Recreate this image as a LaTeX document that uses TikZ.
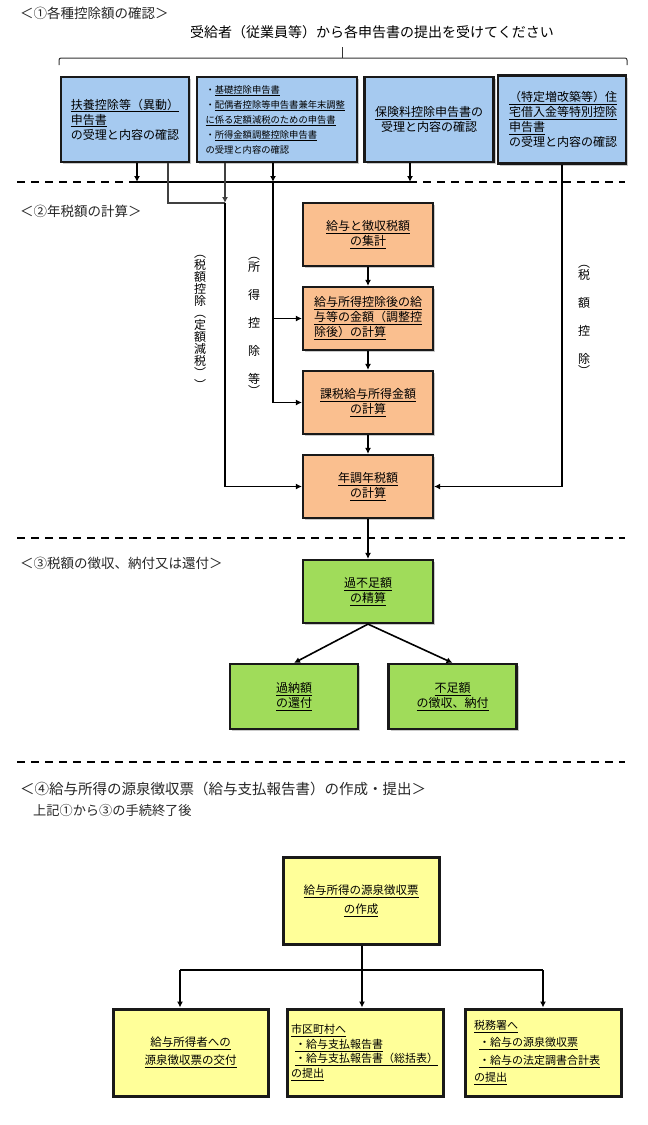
\documentclass[tikz,border=0pt]{standalone}
\usepackage{fontspec}
\setmainfont{Noto Sans CJK JP}
\usetikzlibrary{arrows.meta}
\usetikzlibrary{shadows}

\definecolor{boxblue}{RGB}{166,202,240}
\definecolor{boxorange}{RGB}{250,191,143}
\definecolor{boxgreen}{RGB}{160,220,90}
\definecolor{boxyellow}{RGB}{255,255,153}

\newcommand{\lnk}[1]{\underline{#1}}

\tikzset{
  card/.style={draw=black!90, line width=2.2bp, inner sep=0pt, align=center,
    minimum width=130bp, minimum height=63bp,
    drop shadow={shadow xshift=2bp, shadow yshift=-2bp, opacity=0.35, fill=black!60},
    font=\fontsize{12bp}{15bp}\selectfont},
  bluecard/.style={card, fill=boxblue, minimum width=128bp, minimum height=85bp},
  orangecard/.style={card, fill=boxorange},
  greencard/.style={card, fill=boxgreen},
  yellowcard/.style={card, fill=boxyellow, line width=3bp, minimum width=156bp, minimum height=87bp,
    font=\fontsize{11.5bp}{19bp}\selectfont},
  heading/.style={anchor=west, inner sep=0pt, text=black!85, font=\fontsize{13.5bp}{16bp}\selectfont},
  sepline/.style={line width=2bp, dash pattern=on 8bp off 6bp},
  wire/.style={line width=1.6bp},
  arr/.style={wire, -{Latex[length=6bp,width=6bp]}},
  thinwire/.style={line width=1.3bp, draw=black!75},
  thinarr/.style={thinwire, -{Latex[length=6bp,width=6bp]}},
  tategaki/.style={inner sep=0pt, align=center, font=\fontsize{12bp}{28bp}\selectfont},
}

\begin{document}
\begin{tikzpicture}[x=1bp, y=-1bp]
  \useasboundingbox (0,0) rectangle (648,1125);

  % (1)
  \node[heading] (head1) at (20,13) {＜①各種控除額の確認＞};
  \node[inner sep=0pt, font=\fontsize{14bp}{16bp}\selectfont] (juken) at (372,32) {受給者（従業員等）から各申告書の提出を受けてください};
  \draw[line width=1bp, draw=black!80, rounded corners=2bp] (59,65) -- (59,58) -- (627,58) -- (627,65);
  \draw[line width=1bp, draw=black!80] (342,58) -- (342,47);

  \node[bluecard, text width=108bp, align=left] (fuyo) at (125,119.5) {\lnk{扶養控除等（異動）}\\\lnk{申告書}\\の受理と内容の確認};
  \node[bluecard, minimum width=160bp, text width=143bp, align=left, font=\fontsize{9.3bp}{15bp}\selectfont] (kiso) at (277,119.5) {・\lnk{基礎控除申告書}\\・\lnk{配偶者控除等申告書兼年末調整}\\\lnk{に係る定額減税のための申告書}\\・\lnk{所得金額調整控除申告書}\\の受理と内容の確認};
  \node[bluecard, minimum width=129bp] (hoken) at (429,119.5) {\lnk{保険料控除申告書}の\\受理と内容の確認};
  \node[bluecard, minimum height=88bp, text width=106bp, align=left] (jutaku) at (562,119.5) {\lnk{（特定増改築等）住}\\\lnk{宅借入金等特別控除}\\\lnk{申告書}\\の受理と内容の確認};

  \draw[sepline] (17,182) -- (625,182);

  % (2)
  \node[heading] (head2) at (20,211) {＜②年税額の計算＞};
  \node[orangecard] (kyuyo) at (368,234.5) {\lnk{給与と徴収税額}\\\lnk{の集計}};
  \node[orangecard, text width=108bp, align=left] (kojogo) at (368,318.5) {\lnk{給与所得控除後の給}\\\lnk{与等の金額（調整控}\\\lnk{除後）の計算}};
  \node[orangecard] (kazei) at (368,402.5) {\lnk{課税給与所得金額}\\\lnk{の計算}};
  \node[orangecard] (nenzei) at (368,486.5) {\lnk{年調年税額}\\\lnk{の計算}};

  \coordinate (busL) at (137,182);
  \coordinate (busM) at (273,182);
  \coordinate (busR) at (410,182);
  \coordinate (teigakuL) at (168,203);
  \coordinate (teigakuR) at (225,203);
  \coordinate (zeigaku) at (562,487);

  \draw[arr] (fuyo.south -| busL) -- (busL);
  \draw[arr] (kiso.south -| busM) -- (busM);
  \draw[arr] (hoken.south -| busR) -- (busR);
  \draw[wire] (busL) -- (busR);
  \draw[thinwire] (fuyo.south -| teigakuL) -- (teigakuL) -- (teigakuR);
  \draw[thinarr] (kiso.south -| teigakuR) -- (teigakuR);
  \draw[arr] (teigakuR) |- (nenzei.west);
  \draw[arr] (busM) |- (kojogo.west);
  \draw[arr] (busM) |- (kazei.west);
  \draw[arr] (jutaku.south -| zeigaku) |- (nenzei.east);
  \draw[arr] (kyuyo) -- (kojogo);
  \draw[arr] (kojogo) -- (kazei);
  \draw[arr] (kazei) -- (nenzei);

  \node[tategaki, font=\fontsize{12bp}{12bp}\selectfont] (teigakuLbl) at (200,322) {︵\\税\\額\\控\\除\\︵\\定\\額\\減\\税\\︶\\︶};
  \node[tategaki] (shotokuLbl) at (254,326) {︵\\[-16bp]所\\得\\控\\除\\等\\[-16bp]︶};
  \node[tategaki] (zeigakuLbl) at (584,320) {︵\\[-16bp]税\\額\\控\\除\\[-16bp]︶};

  \draw[sepline] (17,538) -- (625,538);

  % (3)
  \node[heading] (head3) at (20,563) {＜③税額の徴収、納付又は還付＞};
  \node[greencard] (kabusoku) at (368,591.5) {\lnk{過不足額}\\\lnk{の精算}};
  \node[greencard, minimum width=128bp, minimum height=65bp] (kano) at (294,696.5) {\lnk{過納額}\\\lnk{の還付}};
  \node[greencard, minimum width=128bp, minimum height=65bp] (fusoku) at (452.5,696.5) {\lnk{不足額}\\\lnk{の徴収、納付}};

  \draw[arr] (nenzei) -- (kabusoku);
  \draw[arr] (kabusoku.south) -- (kano.north);
  \draw[arr] (kabusoku.south) -- (fusoku.north);

  \draw[sepline] (17,762) -- (625,762);

  % (4)
  \node[heading, font=\fontsize{14.5bp}{16bp}\selectfont] (head4) at (20,789) {＜④給与所得の源泉徴収票（給与支払報告書）の作成・提出＞};
  \node[heading, font=\fontsize{13.2bp}{16bp}\selectfont] (head4sub) at (33,810) {上記①から③の手続終了後};

  \node[yellowcard] (sakusei) at (361,900.5) {\lnk{給与所得の源泉徴収票}\\\lnk{の作成}};
  \node[yellowcard, minimum width=155bp, font=\fontsize{11.5bp}{18bp}\selectfont] (kofu) at (190.5,1052.5) {\lnk{給与所得者への}\\\lnk{源泉徴収票の交付}};
  \node[yellowcard, text width=148bp, align=left, font=\fontsize{11bp}{14.5bp}\selectfont] (shiku) at (365,1052.5) {\lnk{市区町村へ}\\\hspace*{4bp}\lnk{・給与支払報告書}\\\hspace*{4bp}\lnk{・給与支払報告書（総括表）}\\\lnk{の提出}};
  \node[yellowcard, text width=138bp, align=left, font=\fontsize{11bp}{17.5bp}\selectfont] (zeimusho) at (543,1052.5) {\lnk{税務署へ}\\\hspace*{5bp}\lnk{・給与の源泉徴収票}\\\hspace*{5bp}\lnk{・給与の法定調書合計表}\\\lnk{の提出}};

  \coordinate (bunkiL) at (180,970);
  \coordinate (bunkiM) at (362,970);
  \coordinate (bunkiR) at (543,970);

  \draw[wire] (sakusei.south -| bunkiM) -- (bunkiM);
  \draw[wire] (bunkiL) -- (bunkiR);
  \draw[arr] (bunkiL) -- (kofu.north -| bunkiL);
  \draw[arr] (bunkiM) -- (shiku.north -| bunkiM);
  \draw[arr] (bunkiR) -- (zeimusho.north -| bunkiR);
\end{tikzpicture}
\end{document}
